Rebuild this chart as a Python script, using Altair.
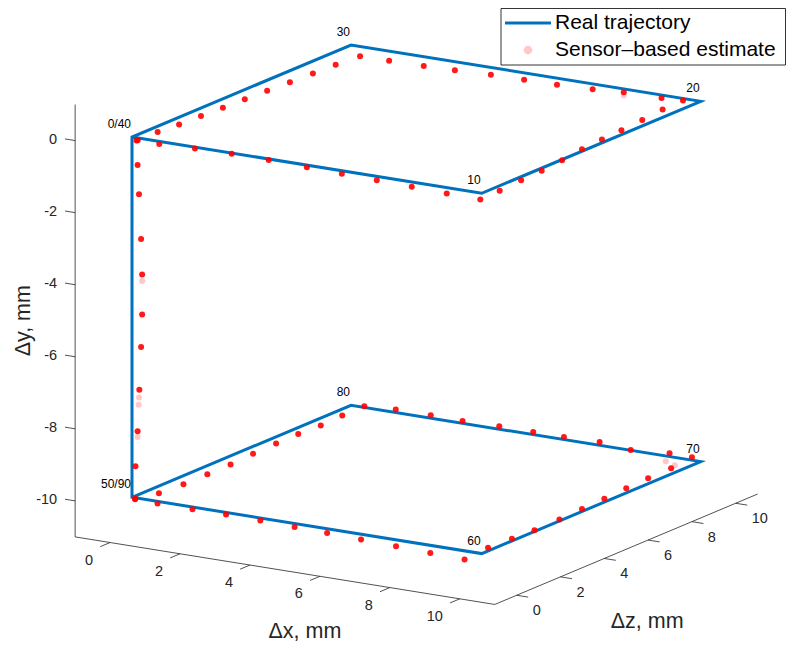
import altair as alt
import pandas as pd

# ---------------- data ----------------
# real trajectory (vertices, time stamps)
traj_t = [0, 10, 20, 30, 40, 50, 60, 70, 80, 90]
traj_x = [0, 10, 10, 0, 0, 0, 10, 10, 0, 0]
traj_y = [0, 0, 0, 0, 0, -10, -10, -10, -10, -10]
traj_z = [0, 0, 10, 10, 0, 0, 0, 10, 10, 0]

# vertex annotations
lab_text = ["0/40", "10", "20", "30", "50/90", "60", "70", "80"]
lab_x = [0, 10, 10, 0, 0, 10, 10, 0]
lab_y = [0, 0, 0, 0, -10, -10, -10, -10]
lab_z = [0, 0, 10, 10, 0, 0, 10, 10]

# sensor-based estimate, t = 0 ... 90
est_x = [0.13, 0.78, 1.8, 2.85, 3.91, 5.0, 6.0, 7.0, 8.0, 9.0, 9.96,
         10, 10, 10, 10, 10, 10, 10, 10, 10,
         9.6,
         8.88, 7.8, 6.91, 5.89, 4.95, 4.0, 2.97, 2.08, 1.09, 0.26,
         0, 0, 0, 0, 0, 0, 0, 0, 0,
         0.1,
         0.16, 0.2, 0.26, 0.29, 0.29, 0.26, 0.21, 0.16, 0.1,
         0.09, 0.73, 1.73, 2.69, 3.67, 4.65, 5.58, 6.55, 7.55, 8.53, 9.51,
         10, 10, 10, 10, 10, 10, 10, 10, 10, 10,
         9.11, 8.0, 7.11, 6.09, 5.21, 4.24, 3.19, 2.28, 1.28, 0.38,
         0, 0, 0, 0, 0, 0, 0, 0, 0, 0]
est_y = [-0.08, -0.07, -0.04, -0.02, -0.03, -0.06, -0.08, -0.11, -0.13, -0.16, -0.18,
         -0.14, -0.10, -0.075, -0.02, 0.05, 0.09, 0.12, 0.16, 0.22,
         0.0,
         -0.08, -0.09, -0.15, -0.18, -0.19, -0.20, -0.24, -0.26, -0.27, -0.27,
         -0.37, -0.35, -0.32, -0.29, -0.27, -0.25, -0.22, -0.20, -0.16,
         -0.10,
         -0.75, -1.56, -2.79, -3.77, -4.88, -5.79, -6.98, -8.14, -9.12,
         -10.02, -10.06, -10.06, -10.06, -10.07, -10.10, -10.12, -10.15, -10.18, -10.21, -10.24,
         -9.91, -9.94, -9.97, -9.96, -9.93, -9.91, -9.87, -9.85, -9.84, -9.78,
         -9.91, -9.99, -9.91, -9.93, -9.93, -9.92, -9.94, -9.92, -9.92, -9.97,
         -10.18, -10.21, -10.18, -10.19, -10.20, -10.24, -10.24, -10.24, -10.20, -10.09]
est_z = [0, 0, 0, 0, 0, 0, 0, 0, 0, 0, 0,
         0.82, 1.8, 2.74, 3.67, 4.58, 5.49, 6.38, 7.33, 8.26,
         9.83,
         10, 10, 10, 10, 10, 10, 10, 10, 10, 10,
         9.3, 8.26, 7.21, 6.17, 5.15, 4.15, 3.15, 2.15, 1.17,
         0.1,
         0, 0, 0, 0, 0, 0, 0, 0, 0,
         0, 0, 0, 0, 0, 0, 0, 0, 0, 0, 0,
         0.29, 1.38, 2.41, 3.55, 4.58, 5.6, 6.6, 7.6, 8.65, 9.6,
         10, 10, 10, 10, 10, 10, 10, 10, 10, 10,
         9.6, 8.62, 7.59, 6.58, 5.53, 4.5, 3.44, 2.35, 1.23, 0.14]

# a few outlying samples from other repetitions (faint)
faint_x = [0.29, 0.2, 0.19, 0.16, 7.8, 9.0, 9.26]
faint_y = [-3.95, -7.2, -7.4, -8.3, -0.18, -10.15, -10.22]
faint_z = [0, 0, 0, 0, 10, 10, 10]

# axes
x_lim = [-1, 11]
y_lim = [-11, 1]
z_lim = [-1, 11]
x_ticks = [0, 2, 4, 6, 8, 10]
y_ticks = [-10, -8, -6, -4, -2, 0]
z_ticks = [0, 2, 4, 6, 8, 10]

legend_labels = ["Real trajectory", "Sensor\u2013based estimate"]
axis_titles = ["\u0394x, mm", "\u0394y, mm", "\u0394z, mm"]

# ---------------- camera (3-D -> page projection) ----------------
O = (132, 137)          # page position of (0,0,0)
XU = (34.97, 5.63)      # page shift per mm of x
ZU = (21.9, -9.2)       # page shift per mm of z
YU = -36.03             # page shift (vertical) per mm of y
FONT = "Liberation Sans"
AX_COL = "#262626"
W, H = 778, 634


def proj(ch, x="datum.x", y="datum.y", z="datum.z", px="px", py="py"):
    return ch.transform_calculate(**{
        px: f"{O[0]} + {XU[0]}*({x}) + {ZU[0]}*({z})",
        py: f"{O[1]} + {XU[1]}*({x}) + ({ZU[1]})*({z}) + ({YU})*({y})",
    })


xsc = alt.Scale(domain=[8, 8 + W], nice=False, zero=False)
ysc = alt.Scale(domain=[8, 8 + H], nice=False, zero=False, reverse=True)
X = alt.X("px:Q", scale=xsc, axis=None)
Y = alt.Y("py:Q", scale=ysc, axis=None)

# axis lines
axes_df = pd.DataFrame({
    "x": [x_lim[0], x_lim[0], x_lim[1]],
    "y": [y_lim[0], y_lim[0], y_lim[0]],
    "z": [z_lim[0], z_lim[0], z_lim[0]],
    "x2": [x_lim[0], x_lim[1], x_lim[1]],
    "y2": [y_lim[1], y_lim[0], y_lim[0]],
    "z2": [z_lim[0], z_lim[0], z_lim[1]],
})
axes_layer = proj(proj(alt.Chart(axes_df)), "datum.x2", "datum.y2", "datum.z2", "px2", "py2") \
    .mark_rule(color=AX_COL, strokeWidth=0.8) \
    .encode(x=X, y=Y, x2="px2:Q", y2="py2:Q")

# tick marks
TL_Y, TL_X, TL_Z = 0.29, 0.45, 0.33
rows = []
for v in y_ticks:
    rows.append(dict(x=x_lim[0], y=v, z=z_lim[0], x2=x_lim[0] - TL_Y, y2=v, z2=z_lim[0]))
for v in x_ticks:
    rows.append(dict(x=v, y=y_lim[0], z=z_lim[0], x2=v, y2=y_lim[0], z2=z_lim[0] - TL_X))
for v in z_ticks:
    rows.append(dict(x=x_lim[1], y=y_lim[0], z=v, x2=x_lim[1] + TL_Z, y2=y_lim[0], z2=v))
ticks_df = pd.DataFrame(rows)
ticks_layer = proj(proj(alt.Chart(ticks_df)), "datum.x2", "datum.y2", "datum.z2", "px2", "py2") \
    .mark_rule(color=AX_COL, strokeWidth=0.8) \
    .encode(x=X, y=Y, x2="px2:Q", y2="py2:Q")

# tick labels
ylab_df = pd.DataFrame({"x": x_lim[0], "y": y_ticks, "z": z_lim[0], "label": [str(v) for v in y_ticks]})
xlab_df = pd.DataFrame({"x": x_ticks, "y": y_lim[0], "z": z_lim[0], "label": [str(v) for v in x_ticks]})
zlab_df = pd.DataFrame({"x": x_lim[1], "y": y_lim[0], "z": z_ticks, "label": [str(v) for v in z_ticks]})
tick_font = dict(font=FONT, fontSize=14.5, color=AX_COL, baseline="middle")
ylab_layer = proj(alt.Chart(ylab_df)).mark_text(align="right", dx=-18, dy=-1, **tick_font).encode(x=X, y=Y, text="label:N")
xlab_layer = proj(alt.Chart(xlab_df)).mark_text(align="right", dx=-17, dy=18, **tick_font).encode(x=X, y=Y, text="label:N")
zlab_layer = proj(alt.Chart(zlab_df)).mark_text(align="left", dx=16, dy=16, **tick_font).encode(x=X, y=Y, text="label:N")

# axis titles
title_font = dict(font=FONT, fontSize=21.5, color=AX_COL, baseline="middle", align="center")
tx_df = pd.DataFrame({"x": [5], "y": [y_lim[0]], "z": [z_lim[0]], "label": [axis_titles[0]]})
ty_df = pd.DataFrame({"x": [x_lim[0]], "y": [-5], "z": [z_lim[0]], "label": [axis_titles[1]]})
tz_df = pd.DataFrame({"x": [x_lim[1]], "y": [y_lim[0]], "z": [5], "label": [axis_titles[2]]})
tx_layer = proj(alt.Chart(tx_df)).mark_text(dx=20, dy=61, **title_font).encode(x=X, y=Y, text="label:N")
ty_layer = proj(alt.Chart(ty_df)).mark_text(angle=270, dy=-51, **title_font).encode(x=X, y=Y, text="label:N")
tz_layer = proj(alt.Chart(tz_df)).mark_text(dx=21, dy=73, **title_font).encode(x=X, y=Y, text="label:N")

# trajectory
traj_df = pd.DataFrame({"t": traj_t, "x": traj_x, "y": traj_y, "z": traj_z})
traj_layer = proj(alt.Chart(traj_df)).mark_line(color="#0072BD", strokeWidth=3, strokeJoin="miter") \
    .encode(x=X, y=Y, order="t:Q")

# estimates
est_df = pd.DataFrame({"x": est_x, "y": est_y, "z": est_z})
est_layer = proj(alt.Chart(est_df)).mark_circle(color="#FF0000", size=36, opacity=0.9).encode(x=X, y=Y)
faint_df = pd.DataFrame({"x": faint_x, "y": faint_y, "z": faint_z})
faint_layer = proj(alt.Chart(faint_df)).mark_circle(color="#FF0000", size=36, opacity=0.22).encode(x=X, y=Y)

# vertex labels
lab_df = pd.DataFrame({"x": lab_x, "y": lab_y, "z": lab_z, "label": lab_text})
lab_layer = proj(alt.Chart(lab_df)).mark_text(font=FONT, fontSize=12, color="black", align="right",
                                              baseline="middle", dx=-1, dy=-13) \
    .encode(x=X, y=Y, text="label:N")

# legend (drawn box)
one = alt.Data(values=[{"k": 1}])
leg_box = alt.Chart(one).mark_rect(fill="white", stroke="black", strokeWidth=0.8).encode(
    x=alt.value(493), x2=alt.value(777.5), y=alt.value(0.5), y2=alt.value(57))
leg_line = alt.Chart(one).mark_rule(color="#0072BD", strokeWidth=3).encode(
    x=alt.value(497), x2=alt.value(543), y=alt.value(15))
leg_dot = alt.Chart(one).mark_circle(color="#FF0000", size=75, opacity=0.22).encode(
    x=alt.value(520), y=alt.value(42))
leg_font = dict(font=FONT, fontSize=21, color="black", align="left", baseline="middle")
leg_t1 = alt.Chart(one).mark_text(**leg_font).encode(
    x=alt.value(547), y=alt.value(15), text=alt.value(legend_labels[0]))
leg_t2 = alt.Chart(one).mark_text(**leg_font).encode(
    x=alt.value(547), y=alt.value(42), text=alt.value(legend_labels[1]))

chart = alt.layer(
    axes_layer, ticks_layer, ylab_layer, xlab_layer, zlab_layer,
    tx_layer, ty_layer, tz_layer,
    traj_layer, faint_layer, est_layer, lab_layer,
    leg_box, leg_line, leg_dot, leg_t1, leg_t2,
).properties(
    width=W, height=H, padding=0,
    autosize=alt.AutoSizeParams(type="none"),
).configure_view(strokeWidth=0)

chart.save("out.html", embed_options={"renderer": "svg", "actions": False})
